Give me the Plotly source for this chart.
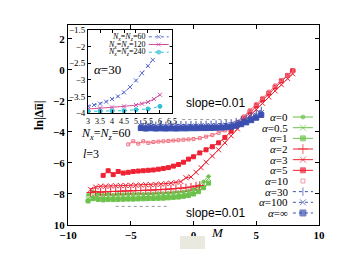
import plotly.graph_objects as go

# ---------------- main panel data ----------------
x_green = [-8.4, -8.0, -7.6, -7.2, -6.8, -6.4, -6.0, -5.6, -5.2, -4.8, -4.4, -4.0, -3.6,
           -3.2, -2.8, -2.4, -2.0, -1.6, -1.2, -0.8, -0.4, 0.0, 0.4, 0.8, 1.2]
y_a0 = [-8.05, -7.85, -8.0, -8.05, -8.0, -8.05, -8.0, -8.02, -8.0, -8.0, -7.98, -8.0, -7.98,
        -7.97, -7.95, -7.95, -7.93, -7.9, -7.88, -7.85, -7.8, -7.7, -7.5, -7.2, -6.85]
y_a05 = [-8.3, -8.1, -8.2, -8.25, -8.2, -8.22, -8.2, -8.2, -8.18, -8.2, -8.18, -8.17, -8.16,
         -8.15, -8.13, -8.12, -8.1, -8.08, -8.05, -8.0, -7.95, -7.85, -7.65, -7.35, -7.0]
y_a1 = [-8.45, -8.3, -8.35, -8.38, -8.35, -8.36, -8.35, -8.34, -8.33, -8.33, -8.32, -8.31, -8.3,
        -8.29, -8.28, -8.27, -8.25, -8.22, -8.2, -8.15, -8.1, -8.0, -7.85, -7.6, -7.3]

x_a2 = [-8.2, -7.8, -7.4, -7.0, -6.6, -6.2, -5.8, -5.4, -5.0, -4.6, -4.2, -3.8, -3.4, -3.0,
        -2.6, -2.2, -1.8, -1.4, -1.0, -0.6, -0.2, 0.2, 0.5]
y_a2 = [-7.9, -7.85, -7.88, -7.85, -7.84, -7.83, -7.82, -7.8, -7.8, -7.78, -7.77, -7.76, -7.75,
        -7.73, -7.72, -7.7, -7.68, -7.65, -7.62, -7.6, -7.55, -7.48, -7.45]

x_a3 = [-8.2, -7.8, -7.4, -7.0, -6.6, -6.2, -5.8, -5.4, -5.0, -4.6, -4.2, -3.8, -3.4, -3.0,
        -2.6, -2.2, -1.8, -1.4, -1.0, -0.6, -0.2, 0.2, 0.6, 1.0, 1.5, 2.0, 2.5, 3.0, 3.5,
        4.0, 4.5, 5.0, 5.5, 6.0, 6.5, 7.0, 7.5, 7.9]
y_a3 = [-7.7, -7.55, -7.5, -7.5, -7.48, -7.47, -7.46, -7.45, -7.44, -7.43, -7.42, -7.4, -7.4,
        -7.38, -7.36, -7.33, -7.3, -7.25, -7.2, -6.95, -6.9, -6.6, -6.3, -5.95, -5.55, -5.15,
        -4.7, -4.25, -3.8, -3.35, -2.95, -2.55, -2.15, -1.75, -1.35, -0.95, -0.55, -0.25]

x_a5 = [-7.2, -6.8, -6.4, -6.0, -5.6, -5.2, -4.8, -4.4, -4.0, -3.6, -3.2, -2.8, -2.4, -2.0,
        -1.6, -1.2, -0.8, -0.4, 0.0, 0.5, 1.0, 1.5, 2.0, 2.5, 3.0, 3.5, 4.0, 4.5, 5.0, 5.5,
        6.0, 6.5, 7.0, 7.5, 7.9]
y_a5 = [-6.8, -6.5, -6.75, -6.55, -6.65, -6.6, -6.55, -6.52, -6.5, -6.47, -6.45, -6.4, -6.35,
        -6.3, -6.2, -6.1, -5.95, -5.75, -5.6, -5.35, -5.15, -4.95, -4.7, -4.35, -3.95, -3.5,
        -3.1, -2.7, -2.3, -1.9, -1.5, -1.1, -0.7, -0.35, -0.05]

x_a10 = [-5.2, -4.8, -4.4, -4.0, -3.6, -3.2, -2.8, -2.4, -2.0, -1.6, -1.2, -0.8, -0.4, 0.0,
         0.5, 1.0, 1.5, 2.0, 2.5, 3.0, 3.5, 4.0, 4.5, 5.0, 5.5, 6.0, 6.5, 7.0, 7.5, 8.0]
y_a10 = [-4.8, -4.6, -4.75, -4.6, -4.7, -4.65, -4.62, -4.6, -4.58, -4.55, -4.53, -4.5, -4.48,
         -4.45, -4.4, -4.3, -4.2, -4.05, -3.9, -3.65, -3.35, -3.0, -2.6, -2.2, -1.8, -1.4,
         -1.0, -0.65, -0.35, -0.05]

x_blue = [-4.2, -3.8, -3.4, -3.0, -2.6, -2.2, -1.8, -1.4, -1.0, -0.6, -0.2, 0.2, 0.6, 1.0,
          1.4, 1.8, 2.2, 2.6, 3.0, 3.4, 3.8, 4.2, 4.6, 5.0, 5.4]
y_a30 = [-3.45, -3.55, -3.5, -3.55, -3.52, -3.55, -3.52, -3.54, -3.52, -3.53, -3.52, -3.52,
         -3.51, -3.5, -3.5, -3.48, -3.47, -3.45, -3.4, -3.32, -3.22, -3.1, -2.95, -2.8, -2.6]
y_a100 = [-3.6, -3.65, -3.62, -3.65, -3.63, -3.65, -3.64, -3.65, -3.63, -3.64, -3.63, -3.63,
          -3.62, -3.62, -3.61, -3.6, -3.58, -3.56, -3.52, -3.45, -3.35, -3.22, -3.08, -2.92, -2.75]
y_ainf = [-3.75, -3.78, -3.76, -3.78, -3.77, -3.78, -3.77, -3.78, -3.77, -3.77, -3.76, -3.76,
          -3.75, -3.75, -3.74, -3.73, -3.72, -3.7, -3.66, -3.6, -3.5, -3.38, -3.24, -3.08, -2.9]

# ---------------- inset data (alpha = 30) ----------------
x_n60 = [3.0, 3.25, 3.5, 3.75, 4.0, 4.25, 4.5, 4.75, 5.0, 5.25, 5.5, 5.7]
y_n60 = [-3.8, -3.76, -3.72, -3.66, -3.58, -3.5, -3.38, -3.22, -3.02, -2.8, -2.58, -2.4]
x_n120 = [3.0, 3.5, 4.0, 4.5, 5.0, 5.25, 5.5, 5.75, 6.0]
y_n120 = [-3.88, -3.86, -3.83, -3.8, -3.76, -3.72, -3.67, -3.58, -3.45]
x_n240 = [3.0, 3.5, 4.0, 4.5, 5.0, 5.5, 6.0]
y_n240 = [-3.95, -3.95, -3.94, -3.93, -3.9, -3.88, -3.8]

x_ticks = [-10, -5, 0, 5, 10]
x_ticktext = ["\u221210", "\u22125", "0", "5", "10"]
y_ticks = [2, 0, -2, -4, -6, -8, -10]
y_ticktext = ["2", "0", "\u22122", "\u22124", "\u22126", "\u22128", "10"]
inset_x_ticks = [3, 3.5, 4, 4.5, 5, 5.5, 6, 6.5]
inset_x_ticktext = ["3", "3.5", "4", "4.5", "5", "5.5", "6", "6.5"]
inset_y_ticks = [-1.5, -2, -2.5, -3, -3.5, -4]
inset_y_ticktext = ["\u22121.5", "\u22122", "\u22122.5", "\u22123", "\u22123.5", "\u22124"]

GREEN = "#6cc24a"
RED = "#ee2233"
PINK = "#f07080"
BLUE = "#3b4fb0"
SERIF = "Liberation Serif"

# series specs: (label, x, y, color, symbol, size, dash, mode)
main_series = [
    ("\u03b1=0", x_green, y_a0, GREEN, "circle", 3, "solid", "lines+markers"),
    ("\u03b1=0.5", x_green, y_a05, GREEN, "x-thin", 5, "solid", "lines+markers"),
    ("\u03b1=1", x_green, y_a1, GREEN, "square", 4, "solid", "lines+markers"),
    ("\u03b1=2", x_a2, y_a2, RED, "cross-thin", 6, "solid", "lines+markers"),
    ("\u03b1=3", x_a3, y_a3, RED, "x-thin", 5, "solid", "lines+markers"),
    ("\u03b1=5", x_a5, y_a5, RED, "square", 4, "solid", "lines+markers"),
    ("\u03b1=10", x_a10, y_a10, PINK, "square-open", 3, "solid", "lines+markers"),
    ("\u03b1=30", x_blue, y_a30, BLUE, "line-ns", 5, "dot", "lines+markers"),
    ("\u03b1=100", x_blue, y_a100, BLUE, "x-thin", 5, "dot", "lines+markers"),
    ("\u03b1=\u221e", x_blue, y_ainf, BLUE, "square", 5, "dot", "lines+markers"),
]
inset_series = [
    ("<i>N<sub>x</sub></i>=<i>N<sub>z</sub></i>=60", x_n60, y_n60, "#5566cc", "x-thin", 4, "dot", "lines+markers"),
    ("<i>N<sub>x</sub></i>=<i>N<sub>z</sub></i>=120", x_n120, y_n120, "#d050a0", "x-thin", 4, "solid", "lines+markers"),
    ("<i>N<sub>x</sub></i>=<i>N<sub>z</sub></i>=240", x_n240, y_n240, "#30c0d8", "circle", 4, "dot", "lines+markers"),
]

fig = go.Figure()

def scatter(x, y, name, color, symbol, size, dash, mode, xa, ya, width=1):
    return go.Scatter(x=x, y=y, name=name, mode=mode, showlegend=False,
                      line=dict(color=color, width=width, dash=dash),
                      marker=dict(color=color, symbol=symbol, size=size,
                                  line=dict(color=color, width=1)),
                      xaxis=xa, yaxis=ya, hoverinfo="name+x+y")

for (name, x, y, c, s, sz, d, m) in main_series:
    fig.add_trace(scatter(x, y, name, c, s, sz, d, m, "x", "y"))
for (name, x, y, c, s, sz, d, m) in inset_series:
    fig.add_trace(scatter(x, y, name, c, s, sz, d, m, "x2", "y2"))

# ---- legend keys (drawn on hidden key axes, one row per series) ----
key_x = [0, 1, 2]
for i, (name, x, y, c, s, sz, d, m) in enumerate(main_series):
    key_mode = "markers" if s == "square-open" else "lines+markers"
    fig.add_trace(go.Scatter(x=key_x, y=[i, i, i], mode=key_mode, showlegend=False,
                             line=dict(color=c, width=1, dash=d),
                             marker=dict(color=c, symbol=s, size=[0, sz + 1, 0],
                                         line=dict(color=c, width=1)),
                             xaxis="x3", yaxis="y3", hoverinfo="skip"))
    fig.add_annotation(x=0.883, y=i, xref="paper", yref="y3", xanchor="right",
                       text="<i>\u03b1</i>" + name[1:], showarrow=False,
                       font=dict(family=SERIF, size=11, color="black"))
for i, (name, x, y, c, s, sz, d, m) in enumerate(inset_series):
    fig.add_trace(go.Scatter(x=key_x, y=[i, i, i], mode="lines+markers", showlegend=False,
                             line=dict(color=c, width=1, dash=d),
                             marker=dict(color=c, symbol=s, size=[0, sz, 0],
                                         line=dict(color=c, width=1)),
                             xaxis="x4", yaxis="y4", hoverinfo="skip"))
    fig.add_annotation(x=0.315, y=i, xref="paper", yref="y4", xanchor="right",
                       text=name, showarrow=False,
                       font=dict(family=SERIF, size=8, color="black"))

axis_common = dict(showline=True, linecolor="black", linewidth=1, mirror="ticks",
                   ticks="inside", tickcolor="black", showgrid=False, zeroline=False,
                   automargin=False)
hidden = dict(visible=False, showgrid=False, zeroline=False, automargin=False, fixedrange=True)

fig.update_layout(
    width=351, height=263,
    margin=dict(l=68, r=32, t=25, b=38),
    paper_bgcolor="white", plot_bgcolor="white",
    font=dict(family=SERIF, color="black", size=11),
    showlegend=False,
    xaxis=dict(range=[-10, 10], tickvals=x_ticks, ticktext=x_ticktext, ticklen=4,
               tickfont=dict(size=11, family=SERIF, weight="bold"),
               domain=[0, 1], **axis_common),
    yaxis=dict(range=[-10, 2.9], tickvals=y_ticks, ticktext=y_ticktext, ticklen=4,
               tickfont=dict(size=11, family=SERIF, weight="bold"),
               domain=[0, 1], **axis_common),
    xaxis2=dict(range=[3, 6.5], tickvals=inset_x_ticks, ticktext=inset_x_ticktext, ticklen=3,
                tickfont=dict(size=8, family=SERIF),
                domain=[0.08, 0.414], anchor="y2", **axis_common),
    yaxis2=dict(range=[-4, -1.5], tickvals=inset_y_ticks, ticktext=inset_y_ticktext, ticklen=3,
                tickfont=dict(size=9, family=SERIF),
                domain=[0.56, 0.975], anchor="x2", **axis_common),
    xaxis3=dict(range=[-0.1, 2.1], domain=[0.892, 0.98], anchor="y3", **hidden),
    yaxis3=dict(range=[9.5, -0.5], domain=[0.0335, 0.5665], anchor="x3", **hidden),
    xaxis4=dict(range=[-0.1, 2.1], domain=[0.318, 0.405], anchor="y4", **hidden),
    yaxis4=dict(range=[2.5, -0.5], domain=[0.845, 0.96], anchor="x4", **hidden),
)

# axis titles
fig.add_annotation(x=0.594, y=-0.085, xref="paper", yref="paper", text="<i>M</i>",
                   showarrow=False, font=dict(family=SERIF, size=13, color="black"))
fig.add_annotation(x=-0.151, y=0.55, xref="paper", yref="paper",
                   text="<b>ln|\u0394u\u0305|</b>", textangle=-90,
                   showarrow=False, font=dict(family=SERIF, size=12, color="black"))

# reference dotted slope lines
fig.add_shape(type="line", x0=-0.9, x1=2.9, y0=-3.2, y1=-3.2, xref="x", yref="y",
              line=dict(color="#999999", width=1, dash="dot"))
fig.add_shape(type="line", x0=-6.2, x1=-2.1, y0=-8.8, y1=-8.8, xref="x", yref="y",
              line=dict(color="#999999", width=1, dash="dot"))
# light box below the axis
fig.add_shape(type="rect", xref="paper", yref="paper", x0=0.446, x1=0.546, y0=-0.055, y1=-0.12,
              fillcolor="#e9e9df", line=dict(width=0))

fig.add_annotation(x=1.76, y=-2.1, xref="x", yref="y", text="slope=0.01", showarrow=False,
                   font=dict(family="Liberation Sans", size=12, color="black"))
fig.add_annotation(x=1.76, y=-9.25, xref="x", yref="y", text="slope=0.01", showarrow=False,
                   font=dict(family="Liberation Sans", size=12, color="black"))
fig.add_annotation(x=-9.1, y=-4.1, xref="x", yref="y", xanchor="left",
                   text="<i>N<sub>x</sub></i>=<i>N<sub>z</sub></i>=60", showarrow=False,
                   font=dict(family=SERIF, size=12, color="black"))
fig.add_annotation(x=-9.0, y=-5.4, xref="x", yref="y", xanchor="left",
                   text="<i>l</i>=3", showarrow=False,
                   font=dict(family=SERIF, size=12, color="black"))
fig.add_annotation(x=3.15, y=-2.68, xref="x2", yref="y2", xanchor="left",
                   text="<i>\u03b1</i>=30", showarrow=False,
                   font=dict(family=SERIF, size=13, color="black"))

fig.write_html("out.html", config={"displayModeBar": False},
               post_script="document.body.style.margin='0px';")
